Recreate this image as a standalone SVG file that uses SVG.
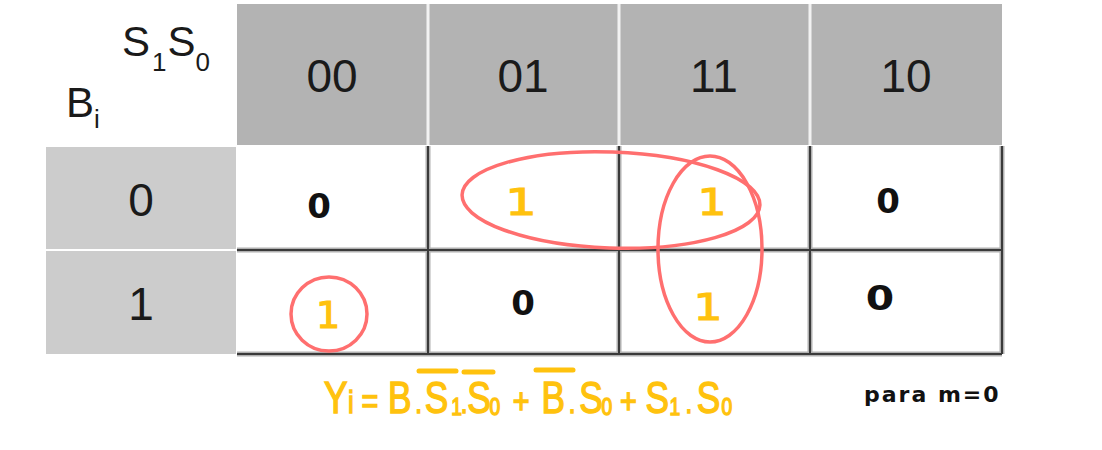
<svg xmlns="http://www.w3.org/2000/svg" width="1102" height="450" viewBox="0 0 1102 450">
<defs>
<style>
.hdr{fill:#b3b3b3}
.rowh{fill:#cccccc}
.lbl{font-family:"Liberation Sans",Arial,sans-serif;font-size:46px;fill:#1a1a1a;text-anchor:middle}
.var{font-family:"Liberation Sans",Arial,sans-serif;font-size:42px;fill:#1a1a1a}
.sub{font-size:26px}
.sep{stroke:#f2f2f2;stroke-width:3}
.gh{stroke:#b0b0b0;stroke-width:5}
.g{stroke:#3a3a3a;stroke-width:2}
.hw0{font-family:"DejaVu Sans",sans-serif;font-weight:bold;font-size:34px;fill:#111;text-anchor:middle}
.hw1{font-family:"DejaVu Sans",sans-serif;font-size:38px;fill:#ffc20e;stroke:#ffc20e;stroke-width:1.2;text-anchor:middle}
.loop{fill:none;stroke:#ff6f6f;stroke-width:3.5}
.f{font-family:"Liberation Sans",Arial,sans-serif;fill:#ffc20e;stroke:#ffc20e;stroke-width:1.5;font-size:44px}
.fs{font-size:24px}
.dot{font-size:30px}
.bar{stroke:#ffc20e;stroke-width:5;stroke-linecap:round}
.note{font-family:"DejaVu Sans",sans-serif;font-weight:bold;font-size:22px;fill:#111}
</style>
</defs>
<rect width="1102" height="450" fill="#ffffff"/>

<g id="corner">
<text class="var" x="122" y="56">S<tspan class="sub" dx="2" dy="15">1</tspan><tspan dx="1" dy="-15">S</tspan><tspan class="sub" dy="15">0</tspan></text>
<text class="var" x="66" y="117">B<tspan class="sub" dy="11">i</tspan></text>
</g>

<g id="col-headers">
<rect class="hdr" x="237" y="4" width="765" height="141"/>
<line class="sep" x1="428" y1="4" x2="428" y2="145"/>
<line class="sep" x1="619" y1="4" x2="619" y2="145"/>
<line class="sep" x1="810" y1="4" x2="810" y2="145"/>
<text class="lbl" x="332" y="92">00</text>
<text class="lbl" x="523" y="92">01</text>
<text class="lbl" x="714" y="92">11</text>
<text class="lbl" x="906" y="92">10</text>
</g>

<g id="row-headers">
<rect class="rowh" x="46" y="147" width="190" height="102"/>
<rect class="rowh" x="46" y="251" width="190" height="103"/>
<text class="lbl" x="141" y="216">0</text>
<text class="lbl" x="141" y="320">1</text>
</g>

<g id="grid">
<line class="gh" x1="237" y1="250" x2="1002" y2="250"/>
<line class="gh" x1="237" y1="354" x2="1002" y2="354"/>
<line class="gh" x1="428" y1="146" x2="428" y2="354"/>
<line class="gh" x1="619" y1="146" x2="619" y2="354"/>
<line class="gh" x1="810" y1="146" x2="810" y2="354"/>
<line class="gh" x1="1002" y1="146" x2="1002" y2="354"/>
<line class="g" x1="237" y1="250" x2="1002" y2="250"/>
<line class="g" x1="237" y1="354" x2="1002" y2="354"/>
<line class="g" x1="428" y1="146" x2="428" y2="354"/>
<line class="g" x1="619" y1="146" x2="619" y2="354"/>
<line class="g" x1="810" y1="146" x2="810" y2="354"/>
<line class="g" x1="1002" y1="146" x2="1002" y2="354"/>
</g>

<g id="cells">
<text class="hw0" x="319" y="218">0</text>
<text class="hw1" x="521" y="215" transform="translate(521 0) scale(1.3 1) translate(-521 0)">1</text>
<text class="hw1" x="712" y="215" transform="translate(712 0) scale(1.2 1) translate(-712 0)">1</text>
<text class="hw0" x="888" y="213">0</text>
<text class="hw1" x="328" y="328">1</text>
<text class="hw0" x="523" y="315">0</text>
<text class="hw1" x="708" y="320" transform="translate(708 0) scale(1.2 1) translate(-708 0)">1</text>
<text class="hw0" x="880" y="310" transform="translate(880 0) scale(1.2 1) translate(-880 0)">0</text>
</g>

<g id="loops">
<ellipse class="loop" cx="611" cy="200" rx="149" ry="48" transform="rotate(2 611 200)"/>
<ellipse class="loop" cx="710" cy="249" rx="52" ry="93"/>
<ellipse class="loop" cx="329" cy="314" rx="38" ry="37"/>
</g>

<g id="formula">
<text class="f" y="413" transform="scale(0.8 1)"><tspan x="405">Y</tspan><tspan x="435" font-size="32">i</tspan><tspan x="452" font-size="36">=</tspan><tspan x="485">B</tspan><tspan class="dot" x="519">.</tspan><tspan x="531">S</tspan><tspan class="fs" x="564" y="415">1</tspan><tspan class="dot" x="576" y="413">.</tspan><tspan x="584">S</tspan><tspan class="fs" x="612" y="415">0</tspan><tspan x="641" y="413" font-size="36">+</tspan><tspan x="677">B</tspan><tspan class="dot" x="711">.</tspan><tspan x="724">S</tspan><tspan class="fs" x="752" y="415">0</tspan><tspan x="775" y="413" font-size="36">+</tspan><tspan x="807">S</tspan><tspan class="fs" x="837" y="415">1</tspan><tspan class="dot" x="857" y="413">.</tspan><tspan x="871">S</tspan><tspan class="fs" x="902" y="415">0</tspan></text>
<line class="bar" x1="419" y1="371" x2="456" y2="371"/>
<line class="bar" x1="464" y1="372" x2="493" y2="372"/>
<line class="bar" x1="536" y1="370" x2="573" y2="370"/>
</g>

<g id="note">
<text class="note" x="864" y="402" letter-spacing="2">para  m=0</text>
</g>
</svg>
